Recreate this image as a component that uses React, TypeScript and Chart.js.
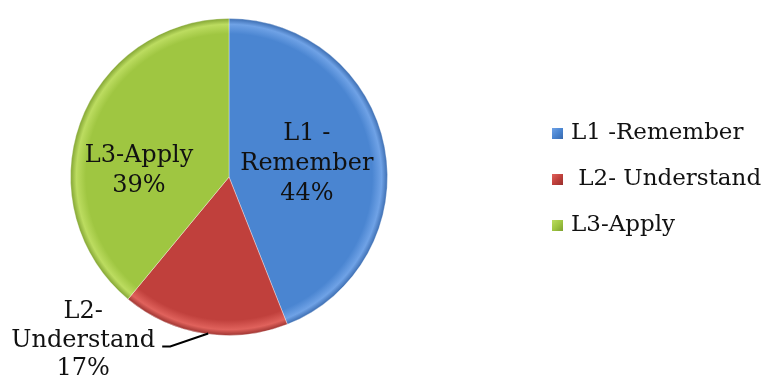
import React, { useEffect, useRef } from "react";
import { Chart, registerables } from "chart.js";
Chart.register(...registerables);

const categories = ["L1 -Remember", " L2- Understand", "L3-Apply"];
const values = [44, 17, 39];
const sliceLabels = [["L1 -", "Remember", "44%"], ["L2-", "Understand", "17%"], ["L3-Apply", "39%"]];
const colors = ["#4a85d1", "#c0403c", "#9fc641"];
const lightColors = ["#6fa2e6", "#e0625c", "#bcdc60"];
const darkColors = ["#3869ad", "#98302d", "#7ea030"];

const FONT = '"DejaVu Serif", "Liberation Serif", serif';

const labelPlugin = {
  id: "labelPlugin",
  afterDraw(chart: any) {
    const ctx = chart.ctx as CanvasRenderingContext2D;
    const meta = chart.getDatasetMeta(0);
    ctx.save();
    ctx.fillStyle = "#111";
    ctx.font = `24px ${FONT}`;
    ctx.textAlign = "center";
    ctx.textBaseline = "middle";
    const lh = 30;
    meta.data.forEach((arc: any, i: number) => {
      const mid = (arc.startAngle + arc.endAngle) / 2;
      const r = arc.outerRadius;
      const lines = sliceLabels[i];
      if (i === 1) {
        const ex = arc.x + Math.cos(mid) * r;
        const ey = arc.y + Math.sin(mid) * r;
        const kx = ex - 34;
        const ky = ey + 13;
        ctx.strokeStyle = "#000";
        ctx.lineWidth = 2;
        ctx.beginPath();
        ctx.moveTo(ex + 4, ey);
        ctx.lineTo(kx, ky);
        ctx.lineTo(kx - 8, ky);
        ctx.stroke();
        const cx = kx - 87;
        const cy = ky - 6;
        lines.forEach((t, j) => ctx.fillText(t, cx, cy + (j - 1) * 28.5));
      } else {
        let cx, cy;
        if (i === 0) {
          cx = arc.x + Math.cos(mid) * r * 0.5;
          cy = arc.y + Math.sin(mid) * r * 0.5 + 2;
        } else {
          cx = arc.x + Math.cos(mid) * r * 0.57 - 5;
          cy = arc.y + Math.sin(mid) * r * 0.57 + 24;
        }
        const n = lines.length;
        lines.forEach((t, j) => ctx.fillText(t, cx, cy + (j - (n - 1) / 2) * lh));
      }
    });
    ctx.textAlign = "left";
    ctx.font = `23px ${FONT}`;
    const lx = 552;
    const ly = [133, 179, 225];
    categories.forEach((c, i) => {
      const y = ly[i];
      const g = ctx.createLinearGradient(lx, y - 5, lx + 11, y + 6);
      g.addColorStop(0, lightColors[i]);
      g.addColorStop(0.5, colors[i]);
      g.addColorStop(1, darkColors[i]);
      ctx.fillStyle = g;
      ctx.fillRect(lx, y - 5, 11, 11);
      ctx.fillStyle = "#111";
      ctx.fillText(c, lx + 19, y);
    });
    ctx.restore();
  },
};

export default function App() {
  const ref = useRef<HTMLCanvasElement>(null);
  useEffect(() => {
    const canvas = ref.current!;
    const chart = new Chart(canvas, {
      type: "pie",
      data: {
        labels: categories,
        datasets: [
          {
            data: values,
            backgroundColor: (ctx: any) => {
              const ch = ctx.chart;
              const a = ch.chartArea;
              if (!a) return colors[ctx.dataIndex];
              const cx = (a.left + a.right) / 2;
              const cy = (a.top + a.bottom) / 2;
              const r = Math.min(a.right - a.left, a.bottom - a.top) / 2;
              const g = ch.ctx.createRadialGradient(cx, cy, 0, cx, cy, r);
              const i = ctx.dataIndex;
              g.addColorStop(0, colors[i]);
              g.addColorStop(0.9, colors[i]);
              g.addColorStop(0.96, lightColors[i]);
              g.addColorStop(1, darkColors[i]);
              return g;
            },
            borderColor: "rgba(255,255,255,0.35)",
            borderWidth: 1,
          },
        ],
      },
      options: {
        responsive: false,
        animation: false,
        layout: { padding: { left: 70, right: 393, top: 18, bottom: 42 } },
        plugins: { legend: { display: false }, tooltip: { enabled: false } },
      },
      plugins: [labelPlugin],
    });
    return () => chart.destroy();
  }, []);
  return (
    <div style={{ position: "fixed", left: 0, top: 0, width: 781, height: 378, background: "#fff" }}>
      <canvas ref={ref} width={781} height={378} />
    </div>
  );
}
